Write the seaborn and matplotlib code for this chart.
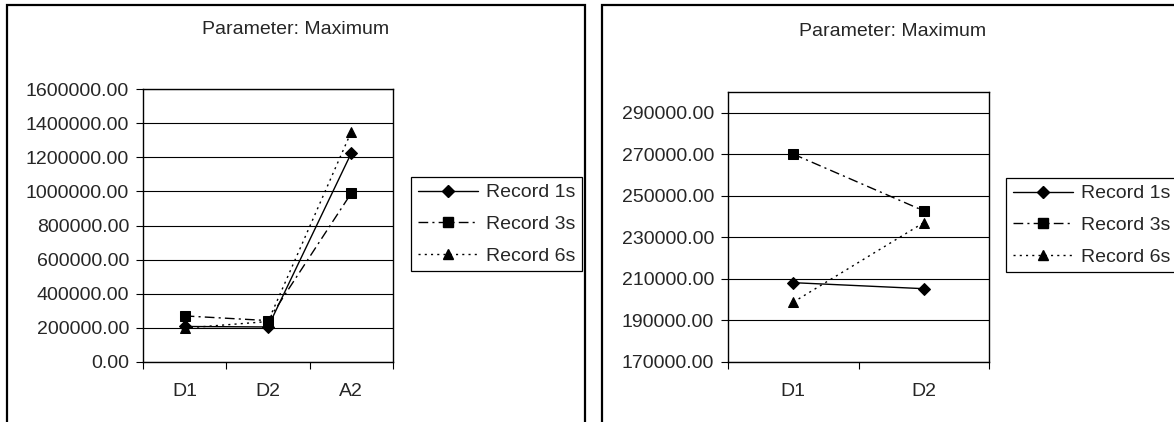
import numpy as np
import pandas as pd
import matplotlib
matplotlib.use("Agg")
import matplotlib.pyplot as plt
from matplotlib.lines import Line2D
from matplotlib.patches import Rectangle
from matplotlib.ticker import FormatStrFormatter
import seaborn as sns

# --- data -------------------------------------------------------------
categories_left = ["D1", "D2", "A2"]
categories_right = ["D1", "D2"]
series_names = ["Record 1s", "Record 3s", "Record 6s"]
record_1s = [208200, 205300, 1225000]
record_3s = [270100, 242800, 990000]
record_6s = [198800, 237100, 1350000]
chart_title = "Parameter: Maximum"
left_ticks = [0, 200000, 400000, 600000, 800000, 1000000, 1200000, 1400000, 1600000]
right_ticks = [170000, 190000, 210000, 230000, 250000, 270000, 290000]

# --- styling ------------------------------------------------------------
sns.set_theme(style="white")
plt.rcParams["font.family"] = ["Liberation Sans", "DejaVu Sans"]
FS = 14

markers = ["D", "s", "^"]
linestyles = ["-", (0, (7, 3, 1.5, 3)), (0, (1.5, 3))]
marker_sizes = [6.2, 6.8, 7.2]
LW = 1.0


def long_table(categories):
    n = len(categories)
    values = [record_1s[:n], record_3s[:n], record_6s[:n]]
    rows = []
    for name, vals in zip(series_names, values):
        for cat, v in zip(categories, vals):
            rows.append({"category": cat, "value": v, "series": name})
    return pd.DataFrame(rows)


def draw_panel(ax, categories, ticks, ylim):
    df = long_table(categories)
    for i, name in enumerate(series_names):
        sns.pointplot(
            data=df[df["series"] == name], x="category", y="value",
            order=categories, color="black", marker=markers[i],
            linestyle=linestyles[i], errorbar=None, ax=ax,
            markersize=marker_sizes[i], linewidth=LW,
        )
    n = len(categories)
    ax.set_xlim(-0.5, n - 0.5)
    ax.set_ylim(*ylim)
    ax.set_yticks(ticks)
    ax.yaxis.set_major_formatter(FormatStrFormatter("%.2f"))
    ax.set_xlabel("")
    ax.set_ylabel("")
    ax.yaxis.grid(True, color="black", linewidth=0.8)
    ax.xaxis.grid(False)
    ax.set_axisbelow(True)
    for sp in ax.spines.values():
        sp.set_visible(True)
        sp.set_color("black")
        sp.set_linewidth(1.0)
    ax.set_xticks(np.arange(-0.5, n, 1.0), minor=True)
    ax.tick_params(axis="x", which="major", length=0, pad=15, labelsize=FS)
    ax.tick_params(axis="x", which="minor", length=5, width=0.8,
                   direction="out", color="black", bottom=True)
    ax.tick_params(axis="y", which="major", length=5, width=0.8,
                   direction="out", color="black", left=True, pad=5,
                   labelsize=FS)
    handles = [
        Line2D([], [], color="black", marker=markers[i], linestyle=linestyles[i],
               markersize=marker_sizes[i], linewidth=LW)
        for i in range(len(series_names))
    ]
    return handles


fig = plt.figure(figsize=(11.74, 4.22), dpi=100)
W, H = 1174.0, 422.0

ax_left = fig.add_axes([143 / W, (H - 362) / H, 250 / W, 273 / H])
ax_right = fig.add_axes([728 / W, (H - 362) / H, 261 / W, 270 / H])

h_left = draw_panel(ax_left, categories_left, left_ticks, (0, 1600000))
h_right = draw_panel(ax_right, categories_right, right_ticks, (170000, 300000))

# chart frames
for x0, x1 in [(7, 585), (602, 1186)]:
    fig.patches.append(Rectangle((x0 / W, -0.2), (x1 - x0) / W, 1.2 - 5 / H,
                                 transform=fig.transFigure, fill=False,
                                 edgecolor="black", linewidth=1.6))

fig.text(296 / W, 1 - 29 / H, chart_title, ha="center", va="center", fontsize=FS)
fig.text(893 / W, 1 - 31 / H, chart_title, ha="center", va="center", fontsize=FS)

for ax, handles, x0, y0 in [(ax_left, h_left, 411, 177), (ax_right, h_right, 1006, 178)]:
    leg = ax.legend(handles, series_names, loc="upper left",
                    bbox_to_anchor=(x0 / W, 1 - y0 / H),
                    bbox_transform=fig.transFigure, borderaxespad=0,
                    fontsize=FS, frameon=True, fancybox=False, shadow=False,
                    handlelength=3.1, handletextpad=0.4, borderpad=0.35,
                    labelspacing=0.72, numpoints=1)
    fr = leg.get_frame()
    fr.set_edgecolor("black")
    fr.set_linewidth(0.9)
    fr.set_alpha(1)

fig.savefig("out.png", dpi=100)
